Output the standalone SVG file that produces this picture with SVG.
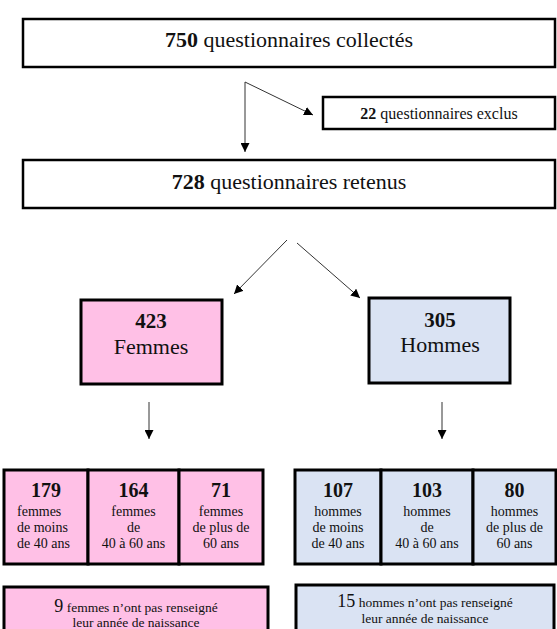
<svg xmlns="http://www.w3.org/2000/svg" width="557" height="629" viewBox="0 0 557 629">
<defs>
<style>
text{font-family:'Liberation Serif','Times New Roman','DejaVu Serif',serif;fill:#111;}
.box{fill:#fff;stroke:#000;stroke-width:2.5;}
.pink{fill:#FFC0E6;stroke:#000;stroke-width:3;}
.blue{fill:#DAE3F3;stroke:#000;stroke-width:3;}
.c{stroke:#333;stroke-width:1;fill:none;}
.b{font-weight:bold;}
</style>
<marker id="ah" viewBox="0 0 10 10" refX="10" refY="5" markerWidth="9" markerHeight="9" markerUnits="userSpaceOnUse" orient="auto">
<path d="M0,0 L10,5 L0,10 Z" fill="#000"/>
</marker>
</defs>
<rect width="557" height="629" fill="#fff"/>
<g font-family="Liberation Serif, Times New Roman, serif">

<g id="collectes">
<rect class="box" x="23" y="19" width="532" height="48"/>
<text x="289" y="47" font-size="22" text-anchor="middle"><tspan class="b">750</tspan> questionnaires collectés</text>
</g>

<g id="exclus">
<rect class="box" x="323" y="97" width="232" height="32"/>
<text x="439" y="119" font-size="16" text-anchor="middle"><tspan class="b">22</tspan> questionnaires exclus</text>
</g>

<g id="retenus">
<rect class="box" x="23" y="160" width="532" height="48"/>
<text x="289" y="189" font-size="22" text-anchor="middle"><tspan class="b">728</tspan> questionnaires retenus</text>
</g>

<g id="femmes">
<rect class="pink" x="81" y="300" width="141" height="84"/>
<text class="b" x="151" y="328" font-size="21" text-anchor="middle">423</text>
<text x="151" y="354" font-size="22" text-anchor="middle">Femmes</text>
</g>

<g id="hommes">
<rect class="blue" x="369" y="298" width="141" height="85"/>
<text class="b" x="440" y="327" font-size="21" text-anchor="middle">305</text>
<text x="440" y="352" font-size="22" text-anchor="middle">Hommes</text>
</g>

<g id="femmes-moins40">
<rect class="pink" x="4" y="470" width="84" height="94"/>
<text class="b" x="46" y="497" font-size="20" text-anchor="middle">179</text>
<text font-size="14"><tspan x="17" y="516">femmes</tspan><tspan x="17" y="532">de moins</tspan><tspan x="17" y="548">de 40 ans</tspan></text>
</g>
<g id="femmes-40-60">
<rect class="pink" x="88" y="470" width="91" height="94"/>
<text class="b" x="133.5" y="497" font-size="20" text-anchor="middle">164</text>
<text font-size="14" text-anchor="middle"><tspan x="133.5" y="516">femmes</tspan><tspan x="133.5" y="532">de</tspan><tspan x="133.5" y="548">40 à 60 ans</tspan></text>
</g>
<g id="femmes-plus60">
<rect class="pink" x="179" y="470" width="84" height="94"/>
<text class="b" x="221" y="497" font-size="20" text-anchor="middle">71</text>
<text font-size="14" text-anchor="middle"><tspan x="221" y="516">femmes</tspan><tspan x="221" y="532">de plus de</tspan><tspan x="221" y="548">60 ans</tspan></text>
</g>

<g id="hommes-moins40">
<rect class="blue" x="295" y="470" width="86" height="94"/>
<text class="b" x="338" y="497" font-size="20" text-anchor="middle">107</text>
<text font-size="14" text-anchor="middle"><tspan x="338" y="516">hommes</tspan><tspan x="338" y="532">de moins</tspan><tspan x="338" y="548">de 40 ans</tspan></text>
</g>
<g id="hommes-40-60">
<rect class="blue" x="381" y="470" width="92" height="94"/>
<text class="b" x="427" y="497" font-size="20" text-anchor="middle">103</text>
<text font-size="14" text-anchor="middle"><tspan x="427" y="516">hommes</tspan><tspan x="427" y="532">de</tspan><tspan x="427" y="548">40 à 60 ans</tspan></text>
</g>
<g id="hommes-plus60">
<rect class="blue" x="473" y="470" width="83" height="94"/>
<text class="b" x="514.5" y="497" font-size="20" text-anchor="middle">80</text>
<text font-size="14" text-anchor="middle"><tspan x="514.5" y="516">hommes</tspan><tspan x="514.5" y="532">de plus de</tspan><tspan x="514.5" y="548">60 ans</tspan></text>
</g>

<g id="femmes-nr">
<rect class="pink" x="4" y="587" width="264" height="60"/>
<text x="136" y="612" font-size="13.5" text-anchor="middle"><tspan font-size="18">9</tspan> femmes n’ont pas renseigné</text>
<text x="136" y="627" font-size="13.5" text-anchor="middle">leur année de naissance</text>
</g>
<g id="hommes-nr">
<rect class="blue" x="296" y="585" width="258" height="60"/>
<text x="425" y="607" font-size="13.5" text-anchor="middle"><tspan font-size="18">15</tspan> hommes n’ont pas renseigné</text>
<text x="425" y="623" font-size="13.5" text-anchor="middle">leur année de naissance</text>
</g>
</g>

<g id="connectors">
<path class="c" d="M245,82 L245,152" marker-end="url(#ah)"/>
<path class="c" d="M245,82 L313,115" marker-end="url(#ah)"/>
<path class="c" d="M287,240 L234,294" marker-end="url(#ah)"/>
<path class="c" d="M297,243 L360,298" marker-end="url(#ah)"/>
<path class="c" d="M149,402 L149,439" marker-end="url(#ah)"/>
<path class="c" d="M442,402 L442,439" marker-end="url(#ah)"/>
</g>
</svg>
